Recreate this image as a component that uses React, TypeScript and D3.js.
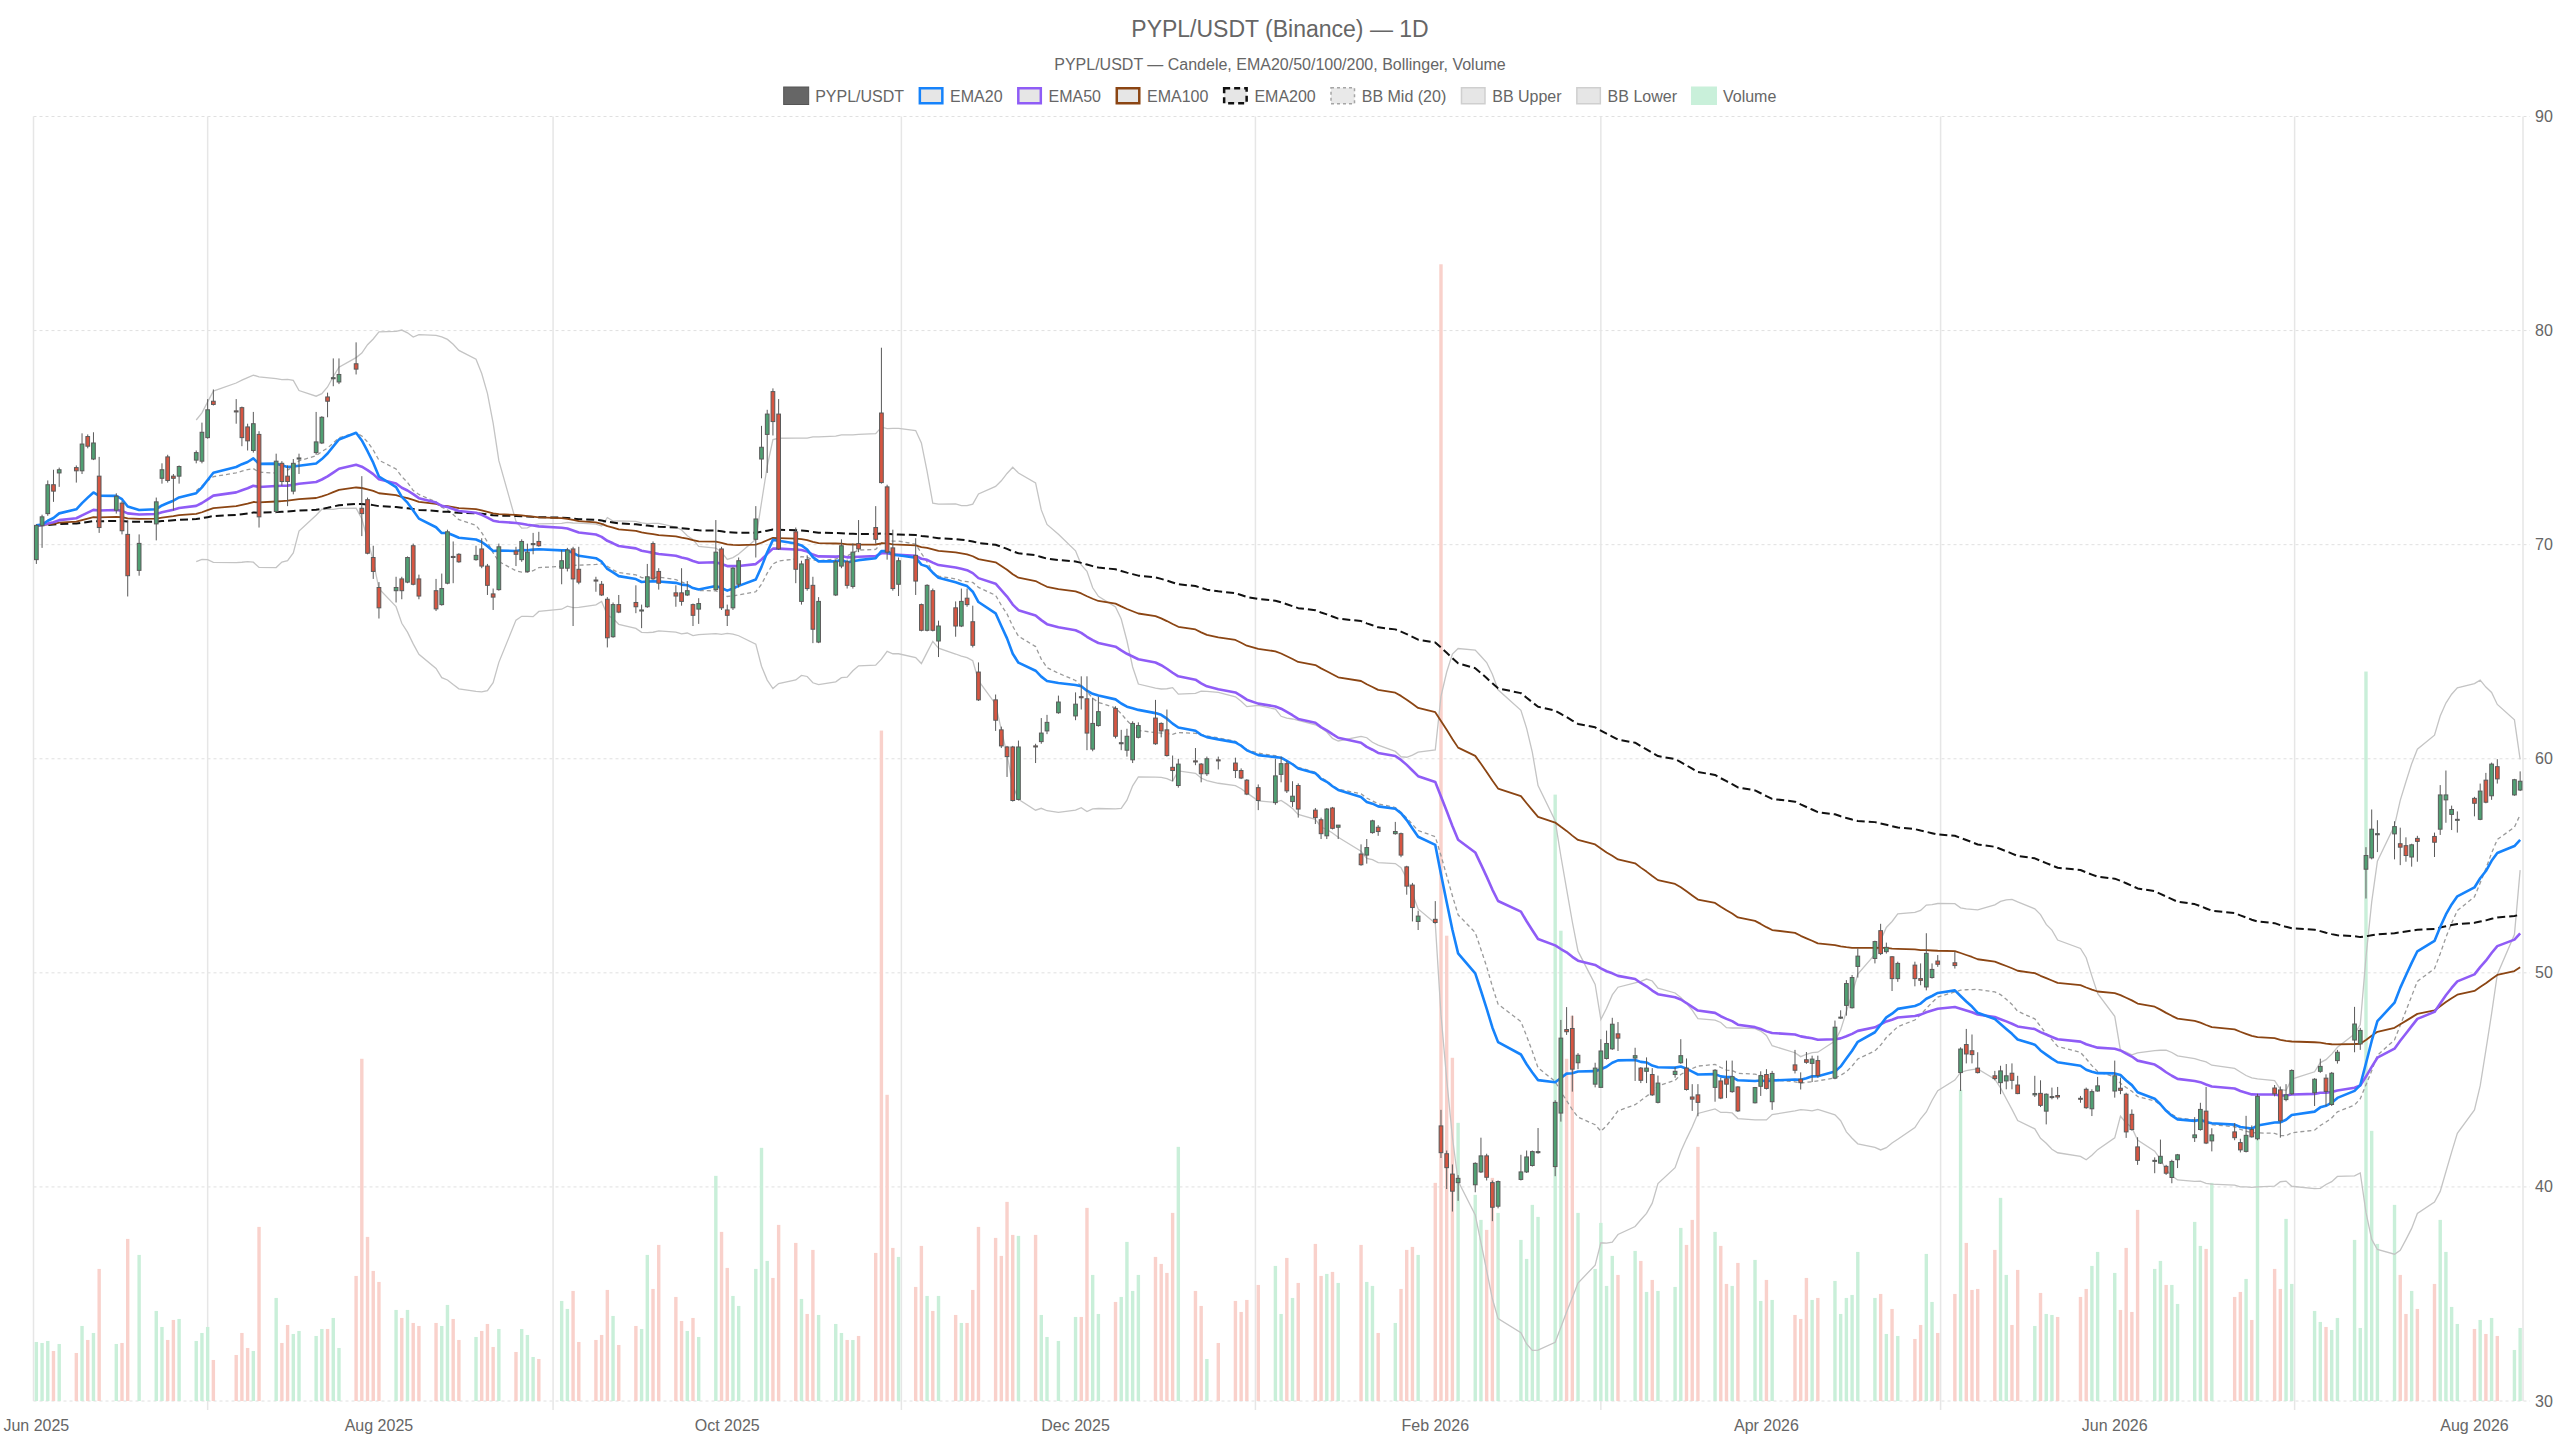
import React, { useMemo } from 'react';
import * as d3 from 'd3';

// ---------- DATA ----------
const START = '2025-06-02';
const END = '2026-08-11';
const HOLIDAYS = [
  '2025-06-19', '2025-07-04', '2025-09-01', '2025-11-27', '2025-12-25', '2026-01-01',
  '2026-01-19', '2026-02-16', '2026-04-03', '2026-05-25', '2026-06-19', '2026-07-03',
];

const OPEN = [
  69.3, 70.9, 71.45, 72.8, 73.35,
  73.6, 73.45, 75.05, 74.0, 73.2,
  71.61, 71.94, 70.48, 68.8,
  70.97, 73.1, 74.1, 73.2, 73.2,
  73.95, 73.9, 75.0, 76.7,
  76.25, 76.4, 75.5, 74.4, 75.15,
  71.55, 73.8, 73.2, 72.5, 74.0,
  74.3, 74.75, 76.9, 77.75, 77.6,
  78.45, 71.7, 72.1, 69.4, 68.0,
  67.85, 68.4, 68.25, 69.95, 68.4,
  67.85, 67.2, 68.2, 69.45, 69.55,
  69.3, 69.8, 69.0, 67.7, 67.9,
  69.7, 69.3, 68.75, 70.0, 70.15,
  68.9, 68.9, 69.8, 68.85,
  68.35, 68.15, 67.45, 65.7, 67.2,
  67.3, 66.9, 67.1, 70.05, 68.75,
  67.75, 67.75, 67.65, 67.2, 66.99,
  67.9, 69.8, 66.95, 67.05, 68.15,
  70.25, 74.0, 75.15, 77.15, 76.1,
  70.6, 67.35, 69.3, 68.1, 65.45,
  67.65, 69.0, 69.2, 68.05, 70.05,
  70.8, 76.15, 72.7, 69.85, 68.15,
  69.5, 67.2, 66.0, 67.85, 65.5,
  67.05, 66.2, 67.5, 66.4, 64.05,
  62.75, 61.35, 60.55, 60.55, 58.1,
  60.6, 60.8, 61.3, 62.15,
  62.0, 62.9, 62.8, 60.45, 61.55,
  62.35, 60.7, 60.4, 59.95, 61.0,
  61.9, 61.65, 61.35, 59.6, 58.75,
  59.9, 59.75, 59.3, 59.95,
  59.8, 59.45, 59.0, 58.65,
  57.95, 59.27, 59.77, 58.0, 58.75,
  57.6, 57.15, 56.4, 57.7, 56.8,
  55.55, 55.5, 56.55, 56.8,
  56.5, 56.5, 54.95, 54.1, 52.4,
  52.5, 42.85, 41.55, 40.6, 40.2,
  40.1, 40.7, 41.45, 40.2, 39.1,
  40.35, 40.7, 41.0, 41.6,
  40.95, 43.45, 47.35, 47.4, 45.8,
  44.8, 44.65, 46.0, 46.45, 47.15,
  46.02, 45.55, 45.4, 45.25, 43.95,
  45.25, 45.8, 45.55, 44.2, 44.3,
  44.65, 44.95, 45.05, 44.45, 44.67,
  43.93, 44.7, 45.25, 43.98,
  45.7, 45.03, 45.94, 45.77, 45.9,
  45.08, 47.9, 48.48, 48.37, 50.3,
  50.67, 51.97, 50.99, 50.75, 49.73,
  50.36, 49.73, 49.34, 49.78, 50.55,
  50.47, 45.34, 46.65, 46.36, 45.55,
  45.19, 44.87, 44.95, 45.31, 44.76,
  44.3, 44.37, 43.54, 44.2, 44.27,
  44.14, 44.56, 43.65, 44.48,
  44.48, 44.61, 44.33, 43.39, 41.87,
  41.2, 41.11, 40.96, 40.44, 41.27,
  42.3, 42.68, 43.54, 42.15,
  42.57, 42.07, 41.66, 42.68, 42.25,
  44.62, 44.53, 44.08, 44.35,
  44.4, 45.4, 45.08, 43.85, 45.9,
  46.86, 46.68, 54.84, 55.37, 56.45,
  56.49, 56.03, 55.94, 55.41, 56.28,
  56.37, 56.71, 58.08, 57.4, 57.15,
  58.15, 57.17, 59.0, 58.27, 59.63,
  58.31, 58.54,
];

const HIGH = [
  70.95, 71.4, 73.0, 73.5, 73.6,
  73.7, 75.2, 75.15, 75.25, 74.1,
  72.4, 72.03, 71.13, 70.48,
  72.2, 73.8, 74.2, 73.3, 73.7,
  74.4, 75.7, 76.8, 77.25,
  76.8, 76.45, 75.65, 76.2, 75.3,
  74.25, 73.9, 73.7, 74.0, 74.25,
  76.2, 76.0, 77.1, 78.7, 78.7,
  79.45, 73.2, 72.2, 69.95, 68.25,
  68.5, 68.5, 69.45, 70.05, 68.6,
  68.4, 68.65, 70.7, 70.15, 69.6,
  69.95, 70.3, 69.1, 67.95, 70.05,
  69.9, 70.25, 70.05, 70.55, 70.6,
  69.75, 69.85, 69.9, 69.9,
  68.5, 68.3, 67.55, 67.3, 67.65,
  68.1, 67.2, 69.1, 70.15, 68.9,
  68.1, 68.9, 68.3, 67.25, 67.5,
  71.15, 69.9, 67.2, 68.95, 69.4,
  71.8, 75.55, 76.3, 77.3, 76.8,
  70.8, 69.25, 69.5, 68.5, 67.55,
  69.3, 70.25, 69.3, 70.05, 71.15,
  71.8, 79.2, 72.8, 70.7, 69.4,
  70.3, 67.25, 68.15, 67.95, 66.45,
  67.35, 67.95, 67.95, 67.15, 64.5,
  63.0, 61.5, 60.6, 60.6, 60.85,
  60.7, 61.9, 62.05, 62.95,
  63.1, 63.85, 63.85, 62.85, 62.9,
  62.45, 61.35, 61.4, 61.75, 61.7,
  62.75, 61.7, 62.3, 60.15, 60.0,
  60.5, 59.8, 60.1, 60.1,
  60.05, 59.55, 59.05, 58.8,
  60.0, 60.1, 59.9, 58.95, 58.85,
  57.7, 57.25, 57.7, 57.75, 56.9,
  56.0, 56.25, 57.15, 56.9,
  57.05, 56.55, 55.0, 54.2, 52.9,
  53.35, 43.6, 41.7, 41.05, 40.55,
  41.15, 42.3, 41.55, 40.3, 40.3,
  41.5, 41.7, 41.7, 42.75,
  44.05, 47.8, 48.4, 48.0, 46.25,
  45.8, 46.9, 47.3, 47.9, 47.7,
  46.5, 45.6, 46.05, 45.55, 45.2,
  45.6, 46.9, 46.0, 44.8, 44.8,
  45.5, 45.1, 45.9, 45.9, 44.7,
  44.67, 45.4, 45.5, 45.42,
  46.4, 45.35, 46.3, 46.13, 46.13,
  47.77, 48.25, 49.66, 49.9, 51.14,
  51.5, 52.29, 51.41, 50.78, 50.52,
  50.52, 50.44, 51.85, 50.44, 50.83,
  50.99, 46.52, 47.38, 47.12, 46.29,
  45.42, 45.66, 45.74, 45.77, 45.19,
  45.19, 44.98, 44.37, 44.64, 44.67,
  44.25, 44.64, 44.56, 45.14,
  45.9, 45.11, 44.4, 43.62, 42.32,
  41.38, 42.21, 41.03, 41.27, 41.54,
  43.26, 43.93, 44.67, 42.74,
  42.98, 42.25, 43.32, 42.87, 44.35,
  44.76, 44.69, 44.8, 45.49,
  45.08, 45.99, 45.26, 45.37, 46.4,
  48.41, 47.43, 55.87, 57.63, 57.13,
  57.08, 56.78, 56.33, 56.03, 56.4,
  56.55, 58.77, 59.45, 57.81, 57.54,
  58.22, 58.84, 59.34, 59.82, 59.98,
  59.06, 59.41,
];

const LOW = [
  69.1, 69.85, 71.35, 72.0, 72.7,
  72.9, 73.3, 74.5, 73.95, 70.55,
  71.45, 70.48, 67.58, 68.55,
  70.2, 72.85, 72.9, 71.6, 72.85,
  73.8, 73.8, 74.95, 76.5,
  75.65, 74.6, 74.4, 74.3, 70.8,
  71.5, 72.75, 71.8, 72.35, 73.3,
  74.2, 74.7, 75.95, 77.4, 77.5,
  77.95, 70.4, 69.55, 68.4, 66.55,
  67.3, 67.45, 68.2, 68.1, 67.45,
  66.9, 67.15, 68.15, 68.2, 69.15,
  69.25, 68.9, 67.65, 66.95, 67.85,
  69.0, 69.2, 68.7, 69.55, 69.9,
  68.15, 68.75, 66.2, 68.15,
  67.8, 67.6, 65.2, 65.65, 66.8,
  66.8, 66.1, 67.05, 68.35, 67.9,
  67.1, 67.15, 67.6, 66.2, 66.3,
  67.85, 66.95, 66.2, 66.95, 68.0,
  69.4, 73.1, 73.35, 75.1, 69.75,
  68.2, 67.2, 67.85, 65.4, 65.4,
  67.6, 68.9, 67.95, 67.95, 69.65,
  70.05, 72.85, 69.3, 67.85, 67.6,
  67.65, 65.95, 65.95, 65.95, 64.75,
  65.7, 66.15, 67.1, 65.2, 62.7,
  61.3, 60.5, 59.15, 58.0, 58.05,
  59.8, 60.7, 61.15, 62.1,
  61.8, 62.3, 60.4, 60.35, 61.5,
  60.95, 60.4, 60.1, 59.8, 60.95,
  60.65, 61.0, 60.1, 58.95, 58.65,
  59.7, 58.9, 59.2, 59.5,
  59.1, 59.05, 58.3, 57.6,
  57.85, 58.9, 58.4, 57.75, 57.25,
  56.95, 56.25, 56.25, 56.7, 56.25,
  55.0, 55.1, 56.5, 56.4,
  56.45, 55.4, 53.65, 52.4, 52.0,
  52.3, 41.35, 39.9, 38.85, 39.35,
  39.75, 40.65, 40.3, 38.4, 39.0,
  40.3, 40.65, 40.95, 41.55,
  40.5, 43.05, 47.1, 44.45, 45.5,
  44.65, 44.65, 45.95, 46.4, 46.35,
  44.95, 44.85, 44.85, 44.25, 43.9,
  45.1, 45.75, 44.5, 43.55, 43.3,
  43.98, 44.1, 44.15, 44.4, 43.5,
  43.9, 44.25, 44.55, 43.6,
  45.3, 44.55, 45.75, 44.9, 45.1,
  45.03, 47.85, 48.0, 48.33, 49.78,
  50.44, 50.83, 50.9, 49.15, 49.58,
  49.37, 49.42, 49.18, 49.73, 50.28,
  50.2, 44.48, 45.77, 45.77, 45.3,
  44.98, 44.33, 44.56, 44.56, 44.33,
  44.2, 43.73, 42.92, 44.09, 44.09,
  43.93, 43.65, 43.31, 44.45,
  44.17, 44.33, 42.29, 42.63, 41.03,
  40.64, 41.07, 40.56, 40.17, 40.88,
  42.1, 42.63, 42.0, 41.66,
  42.18, 41.61, 41.61, 42.3, 42.18,
  44.23, 42.3, 44.0, 44.3,
  43.78, 45.33, 43.78, 43.78, 45.76,
  46.29, 46.4, 53.47, 55.3, 55.64,
  55.3, 55.03, 55.19, 54.96, 55.19,
  55.41, 56.44, 57.01, 56.67, 56.55,
  57.31, 57.13, 57.92, 58.08, 58.84,
  58.27, 58.49,
];

const CLOSE = [
  70.9, 71.3, 72.8, 72.5, 73.5,
  73.45, 74.7, 74.6, 74.75, 70.8,
  72.26, 70.65, 68.55, 70.06,
  72.0, 73.5, 73.0, 73.1, 73.65,
  74.3, 75.25, 76.3, 76.55,
  76.2, 75.0, 74.85, 75.65, 71.3,
  73.9, 72.95, 72.95, 73.8, 74.05,
  74.8, 75.95, 76.7, 77.8, 77.95,
  78.2, 71.45, 69.6, 68.75, 67.05,
  68.0, 67.85, 69.4, 68.15, 67.6,
  67.0, 67.95, 70.6, 69.4, 69.2,
  69.5, 69.0, 68.1, 67.55, 69.9,
  69.55, 70.15, 69.65, 70.05, 69.95,
  69.25, 69.75, 68.4, 68.25,
  68.3, 67.65, 65.65, 67.2, 66.85,
  67.1, 66.95, 68.5, 68.4, 68.2,
  67.6, 67.35, 67.85, 66.7, 67.25,
  69.65, 67.05, 66.7, 68.9, 69.25,
  71.2, 74.55, 76.1, 75.75, 69.8,
  68.85, 69.1, 67.95, 66.05, 67.35,
  69.2, 69.95, 68.1, 69.65, 69.8,
  70.25, 72.9, 69.65, 67.95, 69.25,
  68.3, 66.0, 68.1, 66.0, 66.2,
  66.2, 67.35, 67.2, 65.3, 62.75,
  61.8, 60.6, 60.1, 58.05, 60.55,
  60.55, 61.2, 61.7, 62.65,
  62.55, 62.85, 61.2, 61.65, 62.2,
  61.05, 60.75, 61.05, 61.65, 61.55,
  60.7, 61.3, 60.15, 59.45, 59.75,
  59.85, 59.3, 60.0, 59.9,
  59.45, 59.1, 58.35, 58.05,
  59.2, 59.77, 58.5, 58.25, 57.65,
  57.25, 56.5, 57.65, 56.75, 56.9,
  55.05, 55.85, 57.1, 56.6,
  56.6, 55.5, 54.05, 53.05, 52.65,
  52.35, 41.6, 40.9, 39.8, 40.4,
  41.1, 41.45, 40.45, 39.05, 40.25,
  40.7, 41.4, 41.65, 41.65,
  43.95, 46.95, 47.25, 45.5, 46.15,
  45.55, 46.35, 46.7, 47.6, 46.95,
  46.13, 44.98, 45.55, 44.3, 44.85,
  45.4, 46.13, 44.55, 44.1, 43.95,
  45.45, 44.15, 44.8, 45.15, 43.55,
  44.64, 45.2, 44.6, 45.3,
  45.45, 44.87, 45.82, 45.97, 45.2,
  47.46, 47.93, 49.5, 49.78, 50.78,
  51.46, 50.9, 51.19, 49.73, 50.44,
  49.73, 49.65, 50.91, 50.16, 50.4,
  50.34, 46.44, 46.21, 46.18, 45.34,
  45.06, 45.42, 45.19, 44.98, 44.36,
  44.36, 43.81, 44.33, 44.22, 44.2,
  44.12, 43.7, 44.45, 44.72,
  45.19, 44.51, 42.57, 42.68, 41.24,
  41.24, 41.43, 40.64, 41.19, 41.5,
  42.43, 43.62, 42.05, 42.43,
  42.3, 41.73, 42.41, 42.34, 44.23,
  44.35, 43.09, 44.3, 45.44,
  45.03, 45.63, 44.46, 45.31, 46.29,
  47.61, 47.31, 55.48, 56.71, 56.5,
  56.83, 55.87, 55.48, 55.98, 56.14,
  56.1, 58.31, 58.31, 57.63, 57.17,
  57.92, 58.49, 57.97, 59.75, 59.06,
  59.02, 58.95,
];

const VOLUME = [
  59, 58, 60, 50, 57,
  48, 75, 61, 68, 132,
  57, 58, 162, 146,
  90, 74, 61, 81, 82,
  60, 68, 74, 41,
  46, 68, 53, 50, 174,
  103, 58, 76, 67, 70,
  65, 72, 72, 83, 53,
  125, 342, 164, 130, 119,
  91, 83, 91, 78, 75,
  78, 75, 96, 82, 61,
  64, 70, 77, 54, 72,
  49, 72, 66, 44, 42,
  100, 92, 110, 59,
  61, 66, 111, 85, 56,
  75, 72, 146, 112, 156,
  104, 80, 70, 83, 64,
  225, 169, 133, 105, 95,
  132, 253, 140, 123, 176,
  158, 102, 87, 151, 86,
  77, 68, 61, 61, 65,
  148, 670, 306, 153, 144,
  114, 155, 105, 90, 105,
  86, 78, 78, 111, 174,
  163, 145, 199, 166, 165,
  166, 86, 64, 60,
  84, 84, 193, 126, 87,
  99, 104, 159, 110, 126,
  144, 137, 128, 188, 254,
  110, 95, 42, 58,
  100, 89, 101, 116,
  135, 87, 143, 103, 118,
  157, 125, 127, 129, 118,
  156, 119, 115, 68,
  78, 112, 151, 154, 146,
  218, 1136, 465, 343, 278,
  206, 181, 171, 223, 188,
  161, 142, 196, 184,
  606, 470, 342, 385, 188,
  132, 178, 115, 145, 126,
  150, 140, 109, 121, 110,
  114, 173, 156, 181, 254,
  169, 155, 117, 115, 138,
  141, 100, 121, 101,
  86, 82, 123, 101, 103,
  120, 87, 103, 106, 149,
  103, 107, 67, 92, 65,
  62, 76, 147, 99, 68,
  107, 311, 158, 111, 112,
  151, 203, 126, 76, 131,
  75, 108, 87, 86, 84,
  104, 112, 135, 149,
  128, 91, 153, 89, 191,
  132, 140, 116, 116, 97,
  179, 155, 152, 218,
  104, 109, 122, 81, 290,
  132, 112, 182, 117,
  90, 79, 74, 71, 83,
  161, 73, 729, 270, 157,
  196, 126, 87, 110, 92,
  117, 181, 149, 94, 77,
  72, 81, 67, 83, 65,
  51, 73,
];

const LABEL_MONTHS = ['2025-06', '2025-08', '2025-10', '2025-12', '2026-02', '2026-04', '2026-06', '2026-08'];
const Y_TICKS = [30, 40, 50, 60, 70, 80, 90];
const TITLE = 'PYPL/USDT (Binance) — 1D';
const SUBTITLE = 'PYPL/USDT — Candele, EMA20/50/100/200, Bollinger, Volume';
const LEGEND_LABELS = ['PYPL/USDT', 'EMA20', 'EMA50', 'EMA100', 'EMA200', 'BB Mid (20)', 'BB Upper', 'BB Lower', 'Volume'];
const EMA_PERIODS = [20, 50, 100, 200];

// ---------- LAYOUT / STYLE ----------
const W = 2560;
const H = 1440;
const PL = 33.5;
const PR = 2523;
const PT = 116.5;
const PB = 1401;
const FONT = "'Liberation Sans', Arial, Helvetica, sans-serif";
const TXT = '#666';
const UP = 'rgb(80,160,115)';
const DOWN = 'rgb(215,85,65)';
const EDGE = 'rgb(90,90,90)';
const VOL_UP = '#c9efd9';
const VOL_DOWN = '#f9d1cb';
const EMA_COLORS = ['#1683fb', '#8f5cf6', '#8b4513', '#111111'];
const EMA_WIDTHS = [2.6, 2.6, 1.8, 2];
const BB_EDGE = '#c4c4c4';
const BB_MID = '#9a9a9a';

const DAY = 864e5;

function parseDay(s: string): Date {
  const [y, m, d] = s.split('-').map(Number);
  return new Date(Date.UTC(y, m - 1, d || 1));
}

function buildDates(): Date[] {
  const hol = new Set(HOLIDAYS);
  const fmt = d3.utcFormat('%Y-%m-%d');
  const out: Date[] = [];
  const end = parseDay(END).getTime();
  for (let t = parseDay(START).getTime(); t <= end; t += DAY) {
    const d = new Date(t);
    const wd = d.getUTCDay();
    if (wd === 0 || wd === 6) continue;
    if (hol.has(fmt(d))) continue;
    out.push(d);
  }
  return out;
}

function ema(vals: number[], n: number): number[] {
  const k = 2 / (n + 1);
  const out: number[] = [];
  vals.forEach((v, i) => out.push(i === 0 ? v : v * k + out[i - 1] * (1 - k)));
  return out;
}

function bollinger(vals: number[], n = 20, m = 2) {
  const mid: (number | null)[] = [];
  const up: (number | null)[] = [];
  const lo: (number | null)[] = [];
  vals.forEach((_, i) => {
    if (i < n - 1) {
      mid.push(null); up.push(null); lo.push(null);
      return;
    }
    const w = vals.slice(i - n + 1, i + 1);
    const mean = d3.mean(w) as number;
    const sd = Math.sqrt(d3.mean(w, (v) => (v - mean) * (v - mean)) as number);
    mid.push(mean); up.push(mean + m * sd); lo.push(mean - m * sd);
  });
  return { mid, up, lo };
}

function measure(text: string, size: number): number {
  const c = document.createElement('canvas').getContext('2d');
  if (!c) return text.length * size * 0.55;
  c.font = `${size}px 'Liberation Sans', Arial, sans-serif`;
  return c.measureText(text).width;
}

export default function App() {
  const model = useMemo(() => {
    const allDates = buildDates();
    const n = Math.min(allDates.length, OPEN.length, HIGH.length, LOW.length, CLOSE.length, VOLUME.length);
    const dates = allDates.slice(0, n);
    const close = CLOSE.slice(0, n);

    const x = d3.scaleUtc()
      .domain([new Date(dates[0].getTime() - DAY / 2), new Date(dates[n - 1].getTime() + DAY / 2)])
      .range([PL, PR]);
    const y = d3.scaleLinear().domain([30, 90]).range([PB, PT]);
    const vMax = d3.max(VOLUME.slice(0, n)) as number;
    const yv = d3.scaleLinear().domain([0, vMax * 1.13]).range([PB, PT]);

    const emas = EMA_PERIODS.map((p) => ema(close, p));
    const bb = bollinger(close);

    const line = d3.line<number | null>()
      .defined((v) => v != null)
      .x((_, i) => x(dates[i]))
      .y((v) => y(v as number));

    // label ticks: first trading day in each labelled month
    const fmtMonth = d3.utcFormat('%b %Y');
    const labels = LABEL_MONTHS.map((m) => {
      const start = parseDay(m + '-01').getTime();
      const d = dates.find((dd) => dd.getTime() >= start) as Date;
      return { x: x(d), text: fmtMonth(parseDay(m + '-01')) };
    });
    const grid = labels.slice(1).map((l, i) => (labels[i].x + l.x) / 2);

    // legend layout
    const boxW = 25;
    const gapBT = 6.5;
    const gapItem = 14.5;
    const widths = LEGEND_LABELS.map((t) => measure(t, 16));
    const total = widths.reduce((a, w) => a + boxW + gapBT + w, 0) + gapItem * (LEGEND_LABELS.length - 1);
    let cx = W / 2 - total / 2;
    const legend = LEGEND_LABELS.map((t, i) => {
      const item = { text: t, x: cx };
      cx += boxW + gapBT + widths[i] + gapItem;
      return item;
    });

    return { dates, n, x, y, yv, emas, bb, line, labels, grid, legend };
  }, []);

  const { dates, n, x, y, yv, emas, bb, line, labels, grid, legend } = model;

  const legendBox = (i: number, bx: number) => {
    const by = 87;
    const bh = 17.5;
    const bw = 25;
    const common = { x: bx, y: by, width: bw, height: bh };
    switch (i) {
      case 0:
        return <rect {...common} fill="#666" stroke="#555" strokeWidth={1} />;
      case 1:
      case 2:
      case 3:
        return <rect x={bx + 1.25} y={by + 1.25} width={bw - 2.5} height={bh - 2.5} fill="#e6e6e6" stroke={EMA_COLORS[i - 1]} strokeWidth={2.5} />;
      case 4:
        return <rect x={bx + 1.25} y={by + 1.25} width={bw - 2.5} height={bh - 2.5} fill="#e6e6e6" stroke="#111" strokeWidth={2.5} strokeDasharray="6,4" />;
      case 5:
        return <rect x={bx + 0.75} y={by + 0.75} width={bw - 1.5} height={bh - 1.5} fill="#e9e9e9" stroke="#a5a5a5" strokeWidth={1.5} strokeDasharray="3,3" />;
      case 6:
      case 7:
        return <rect x={bx + 0.75} y={by + 0.75} width={bw - 1.5} height={bh - 1.5} fill="#e6e6e6" stroke="#cfcfcf" strokeWidth={1.5} />;
      default:
        return <rect {...common} fill="#c9f0da" stroke="#c9f0da" strokeWidth={1} />;
    }
  };

  const idx = d3.range(n);

  return (
    <div style={{ position: 'fixed', left: 0, top: 0, width: W, height: H, background: '#fff' }}>
      <svg width={W} height={H} viewBox={`0 0 ${W} ${H}`} style={{ display: 'block', fontFamily: FONT }}>
        <rect x={0} y={0} width={W} height={H} fill="#fff" />

        {/* title */}
        <text x={W / 2} y={36.5} textAnchor="middle" fontSize={23} fill={TXT}>{TITLE}</text>
        <text x={W / 2} y={70} textAnchor="middle" fontSize={16} fill={TXT}>{SUBTITLE}</text>

        {/* legend */}
        {legend.map((it, i) => (
          <g key={it.text}>
            {legendBox(i, it.x)}
            <text x={it.x + 25 + 6.5} y={101.5} fontSize={16} fill={TXT}>{it.text}</text>
          </g>
        ))}

        {/* horizontal grid */}
        {Y_TICKS.map((t) => (
          <line key={t} x1={PL} x2={PR + 7} y1={y(t)} y2={y(t)} stroke="#e0e0e0" strokeWidth={1} strokeDasharray="3,3" />
        ))}
        {/* vertical grid */}
        {grid.map((gx, i) => (
          <line key={i} x1={gx} x2={gx} y1={PT} y2={PB + 9} stroke="#e6e6e6" strokeWidth={1.5} />
        ))}
        <line x1={PL} x2={PL} y1={PT} y2={PB} stroke="#e6e6e6" strokeWidth={1.5} />
        <line x1={PR} x2={PR} y1={PT} y2={PB} stroke="#e6e6e6" strokeWidth={1.5} />

        {/* y labels */}
        {Y_TICKS.map((t) => (
          <text key={t} x={2535} y={y(t) + 5.5} fontSize={16} fill={TXT}>{t}</text>
        ))}
        {/* x labels */}
        {labels.map((l) => (
          <text key={l.text} x={l.x} y={1431} fontSize={16} fill={TXT} textAnchor="middle">{l.text}</text>
        ))}

        {/* volume */}
        <g>
          {idx.map((i) => {
            const up = CLOSE[i] >= OPEN[i];
            const cxp = x(dates[i]);
            const top = yv(VOLUME[i]);
            return <rect key={i} x={cxp - 1.7} y={top} width={3.4} height={PB - top} fill={up ? VOL_UP : VOL_DOWN} />;
          })}
        </g>

        {/* bollinger */}
        <path d={line(bb.lo) || ''} fill="none" stroke={BB_EDGE} strokeWidth={1.3} />
        <path d={line(bb.up) || ''} fill="none" stroke={BB_EDGE} strokeWidth={1.3} />
        <path d={line(bb.mid) || ''} fill="none" stroke={BB_MID} strokeWidth={1.3} strokeDasharray="4,3" />

        {/* EMAs (drawn from slowest to fastest) */}
        {[3, 2, 1, 0].map((k) => (
          <path key={k} d={line(emas[k]) || ''} fill="none" stroke={EMA_COLORS[k]} strokeWidth={EMA_WIDTHS[k]}
            strokeDasharray={k === 3 ? '8,4' : undefined} strokeLinejoin="round" />
        ))}

        {/* candles */}
        <g>
          {idx.map((i) => {
            const o = OPEN[i];
            const c = CLOSE[i];
            const cxp = x(dates[i]);
            const yTop = y(Math.max(o, c));
            const yBot = y(Math.min(o, c));
            const fill = c > o ? UP : c < o ? DOWN : EDGE;
            return (
              <g key={i}>
                <line x1={cxp} x2={cxp} y1={y(HIGH[i])} y2={y(LOW[i])} stroke={EDGE} strokeWidth={1} />
                <rect x={cxp - 1.85} y={yTop} width={3.7} height={Math.max(yBot - yTop, 1)} fill={fill} stroke={EDGE} strokeWidth={1} />
              </g>
            );
          })}
        </g>
      </svg>
    </div>
  );
}
